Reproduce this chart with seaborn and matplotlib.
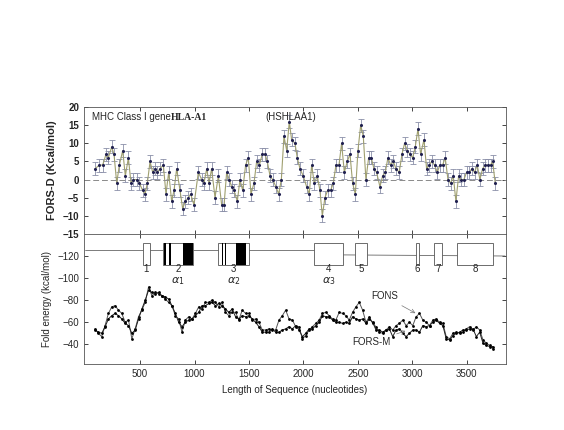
import numpy as np
import matplotlib
matplotlib.use("Agg")
import matplotlib.pyplot as plt
import seaborn as sns
from matplotlib.patches import Rectangle

# FORS-D (top panel) positions (nt) and values (kcal/mol)
fd_pos = [87, 127, 157, 188, 209, 240, 261, 286, 310, 341, 365, 393, 417, 439, 469, 494, 524, 546,
          567, 592, 616, 638, 659, 683, 714, 738, 763, 790, 812, 836, 867, 891, 916, 943, 965, 995,
          1035, 1066, 1087, 1112, 1133, 1157, 1188, 1219, 1249, 1271, 1295, 1319, 1341, 1362, 1393,
          1417, 1442, 1469, 1494, 1518, 1546, 1570, 1595, 1622, 1647, 1668, 1693, 1717, 1748, 1772,
          1797, 1821, 1846, 1870, 1891, 1922, 1943, 1968, 1998, 2029, 2053, 2075,
          2099, 2127, 2151, 2173, 2197, 2222, 2249, 2274, 2298, 2326, 2350, 2375, 2402, 2427, 2451,
          2476, 2500, 2525, 2549, 2573, 2598, 2622, 2647, 2671, 2702, 2726, 2751, 2775, 2800, 2824,
          2849, 2879, 2904, 2928, 2953, 2977, 3002, 3026, 3051, 3075, 3106, 3130, 3155, 3179, 3203,
          3228, 3252, 3277, 3301, 3326, 3350, 3375, 3399, 3424, 3448, 3473, 3497, 3521, 3546, 3570,
          3595, 3619, 3644, 3668, 3693, 3717, 3736, 3760]
fd_val = [3, 4, 4, 7, 6, 9, 7, -1, 4, 8, 1, 6, -1, 0, 0, -1, -3, -4, -1, 5, 2, 3, 2, 3, 4, -4, 2, -6,
          -3, 3, -3, -8, -6, -5, -4, -7, 2, 0, -1, 3, -1, 3, -5, 1, -7, -7, 2, 0, -2, -3, -6, 0, -3,
          4, 6, -4, -1, 5, 4, 7, 7, 5, 1, 0, -2, -4, 0, 12, 8, 16, 11, 10, 6, 3, 1, -2, -4, 4,
          -1, 1, -3, -10, -5, -3, -3, -1, 4, 4, 10, 2, 5, 7, -1, -4, 8, 15, 12, 0, 6, 6, 3, 2, -2, 1,
          2, 6, 4, 5, 3, 2, 7, 10, 8, 7, 6, 9, 14, 7, 11, 3, 4, 5, 4, 2, 4, 4, 6, 0, -1, 1, -6, 1, 0,
          0, 2, 2, 3, 2, 4, 0, 3, 4, 4, 4, 5, -1]
fd_err = 1.8

# Fold energies (bottom panel)
fons = [-54, -50, -47, -57, -68, -74, -75, -71, -68, -60, -62, -45, -54, -65, -71, -78, -92, -84,
        -87, -86, -84, -81, -78, -75, -66, -63, -51, -62, -65, -63, -68, -74, -72, -78, -78, -80,
        -78, -74, -78, -69, -66, -69, -69, -62, -71, -68, -68, -62, -63, -60, -53, -53, -54, -53,
        -53, -62, -66, -71, -63, -62, -56, -56, -45, -48, -53, -56, -59, -62, -68, -69, -66, -63,
        -62, -69, -68, -66, -62, -69, -74, -78, -71, -60, -65, -59, -56, -51, -50, -53, -56, -53,
        -57, -59, -62, -57, -60, -57, -65, -68, -62, -60, -57, -62, -63, -60, -59, -47, -45, -50,
        -51, -50, -51, -54, -56, -53, -56, -53, -44, -41, -39, -36]
fors_m = [-53, -51, -50, -56, -63, -66, -68, -66, -63, -59, -57, -50, -53, -63, -72, -80, -89, -87,
          -86, -87, -84, -83, -81, -75, -68, -60, -56, -60, -62, -63, -66, -69, -75, -75, -77, -78,
          -75, -77, -75, -72, -69, -72, -65, -63, -66, -65, -66, -63, -60, -56, -51, -51, -51, -54,
          -51, -51, -53, -54, -56, -54, -57, -53, -47, -50, -54, -54, -57, -60, -66, -65, -65, -62,
          -60, -60, -59, -60, -59, -65, -63, -62, -63, -59, -63, -60, -53, -53, -51, -53, -54, -47,
          -53, -54, -50, -47, -50, -53, -53, -51, -57, -56, -57, -60, -62, -59, -57, -45, -44, -48,
          -50, -51, -53, -53, -54, -54, -47, -51, -41, -39, -38, -38]
fe_start, fe_end = 87, 3740

# exons: (start, end, label)
exon_start = [525, 708, 1218, 2099, 2472, 3032, 3197, 3410]
exon_end = [592, 989, 1503, 2365, 2585, 3057, 3268, 3737]
exon_lab = ['1', '2', '3', '4', '5', '6', '7', '8']
domain_lab = {1: r'$\alpha_1$', 2: r'$\alpha_2$', 3: r'$\alpha_3$'}
stripes = [(723, 738), (769, 784), (891, 983), (1249, 1258), (1280, 1292), (1378, 1470)]

sns.set_style("ticks")
plt.rcParams['font.family'] = ['Liberation Sans', 'DejaVu Sans']

fig = plt.figure(figsize=(5.64, 4.30), dpi=100)
ax1 = fig.add_axes([0.149, 0.456, 0.748, 0.295])
ax2 = fig.add_axes([0.149, 0.153, 0.748, 0.303])

olive = '#a0a070'
ax1.errorbar(fd_pos, fd_val, yerr=fd_err, fmt='none', ecolor='#8a8fa8', elinewidth=0.6, capsize=2, capthick=0.6)
sns.lineplot(x=fd_pos, y=fd_val, ax=ax1, color=olive, lw=0.8)
ax1.scatter(fd_pos, fd_val, s=1.5, color='#202050', zorder=3)
ax1.axhline(0, color='#8a8a8a', ls=(0, (6, 3)), lw=0.7)
ax1.set_ylim(-15, 20)
ax1.set_yticks(range(-15, 21, 5))
ax1.set_ylabel('FORS-D (Kcal/mol)', fontsize=8, fontweight='bold')
ax1.text(0.02, 0.9, 'MHC Class I gene', transform=ax1.transAxes, fontsize=7)
ax1.text(0.205, 0.9, 'HLA-A1', transform=ax1.transAxes, fontsize=7, fontweight='bold', family='Liberation Serif')
ax1.text(0.43, 0.9, '(HSHLAA1)', transform=ax1.transAxes, fontsize=7)

x2 = np.linspace(fe_start, fe_end, len(fons))
x3 = np.linspace(fe_start, fe_end, len(fors_m))
sns.lineplot(x=x2, y=fons, ax=ax2, color='#555555', lw=0.7, marker='o', markersize=2, markeredgewidth=0, markerfacecolor='black')
sns.lineplot(x=x3, y=fors_m, ax=ax2, color='#222222', lw=0.7, marker='o', markersize=2, markeredgewidth=0, markerfacecolor='black')

# gene map
ax2.plot([0, 2099, 2365, 3850], [-125, -125, -121, -120], color='#666666', lw=0.6, zorder=1)
for i, (s, e) in enumerate(zip(exon_start, exon_end)):
    ax2.add_patch(Rectangle((s, -132), e - s, 20, facecolor='white', edgecolor='#555555', lw=0.6, zorder=2))
    ax2.text((s + e) / 2, -108, exon_lab[i], ha='center', va='center', fontsize=7)
    if i in domain_lab:
        ax2.text((s + e) / 2, -97, domain_lab[i], ha='center', va='center', fontsize=8, family='Liberation Serif')
for s, e in stripes:
    ax2.add_patch(Rectangle((s, -132), e - s, 20, facecolor='black', edgecolor='none', zorder=3))

ax2.annotate('FONS', xy=(3050, -67), xytext=(2620, -81), fontsize=7,
             arrowprops=dict(arrowstyle='->', color='#777777', lw=0.5))
ax2.annotate('FORS-M', xy=(2960, -53), xytext=(2450, -39), fontsize=7,
             arrowprops=dict(arrowstyle='->', color='#777777', lw=0.5))
ax2.set_ylim(-22, -140)
ax2.set_yticks([-120, -100, -80, -60, -40])
ax2.set_ylabel('Fold energy (kcal/mol)', fontsize=7)
ax2.set_xlabel('Length of Sequence (nucleotides)', fontsize=7)

for ax in (ax1, ax2):
    ax.set_xlim(-14, 3858)
    ax.set_xticks(range(500, 3501, 500))
    ax.tick_params(direction='in', length=3, labelsize=7, top=True, right=True, width=0.6)
    for sp in ax.spines.values():
        sp.set_linewidth(0.6)
        sp.set_color('#555555')
ax1.tick_params(labelbottom=False)
for lab in ax1.get_yticklabels():
    lab.set_fontweight('bold')

fig.savefig('out.png', dpi=100)
